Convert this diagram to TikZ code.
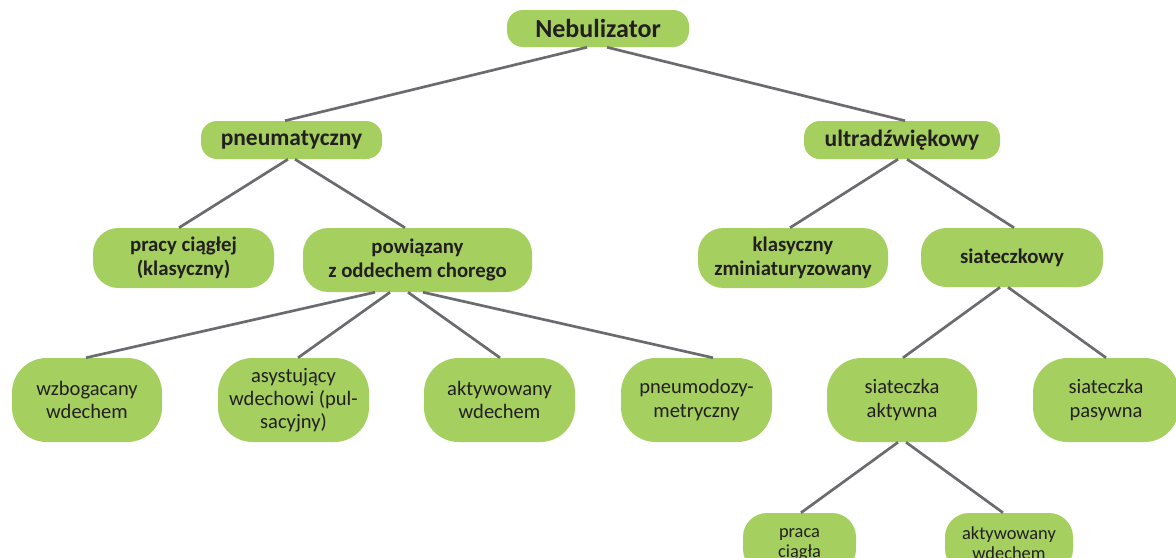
\documentclass[tikz,border=0pt]{standalone}
\usepackage{fontspec}
\setmainfont{Carlito}
\usetikzlibrary{calc}
\definecolor{boxgreen}{HTML}{A5CF5F}
\definecolor{linegray}{HTML}{6A6B6E}
\definecolor{txt}{HTML}{231F20}
\tikzset{
  box/.style={rectangle, rounded corners=#1, fill=boxgreen, draw=none, text=txt, align=center, inner sep=0pt},
  lvA/.style={box=12, font=\bfseries\fontsize{19.5}{22}\selectfont},
  lvB/.style={box=12, font=\bfseries\fontsize{17.6}{20}\selectfont},
  lvC/.style={box=19, font=\bfseries\fontsize{15.6}{18}\selectfont},
  lvD/.style={box=26, font=\fontsize{15.4}{17.3}\selectfont},
  lvE/.style={box=18, font=\fontsize{13.8}{14.6}\selectfont},
  conn/.style={draw=linegray, line width=2pt}
}
\begin{document}
\begin{tikzpicture}[x=0.75pt,y=-0.75pt]
\clip (0,0) rectangle (1176,557);
\fill[white] (0,0) rectangle (1176,557);
% level 0
\node[lvA, minimum width=182*0.75pt, minimum height=37*0.75pt] (neb) at (598,28.5) {Nebulizator};
% level 1
\node[lvB, minimum width=181*0.75pt, minimum height=38*0.75pt] (pne) at (291.5,140) {pneumatyczny};
\node[lvB, minimum width=196*0.75pt, minimum height=38*0.75pt] (ult) at (902,140) {ultradźwiękowy};
% level 2
\node[lvC, minimum width=181*0.75pt, minimum height=60*0.75pt] (pra) at (183.5,258) {pracy ciągłej\\(klasyczny)};
\node[lvC, minimum width=229*0.75pt, minimum height=64*0.75pt] (pow) at (417.5,260) {powiązany\\z oddechem chorego};
\node[lvC, minimum width=190*0.75pt, minimum height=60*0.75pt] (kla) at (793,258) {klasyczny\\zminiaturyzowany};
\node[lvC, minimum width=182*0.75pt, minimum height=59*0.75pt] (sia) at (1012,257.5) {siateczkowy};
% level 3
\node[lvD, minimum width=150*0.75pt, minimum height=84*0.75pt] (wzb) at (87,400) {wzbogacany\\wdechem};
\node[lvD, minimum width=151*0.75pt, minimum height=84*0.75pt] (asy) at (293.5,400) {asystujący\\wdechowi (pul-\\sacyjny)};
\node[lvD, minimum width=151*0.75pt, minimum height=84*0.75pt] (akt) at (499.5,400) {aktywowany\\wdechem};
\node[lvD, minimum width=151*0.75pt, minimum height=84*0.75pt] (pnm) at (696.5,400) {pneumodozy-\\metryczny};
\node[lvD, minimum width=150*0.75pt, minimum height=84*0.75pt] (saa) at (902,400) {siateczka\\aktywna};
\node[lvD, minimum width=146*0.75pt, minimum height=84*0.75pt] (sap) at (1106,400) {siateczka\\pasywna};
% level 4
\node[lvE, minimum width=113*0.75pt, minimum height=60*0.75pt, text depth=0pt] (pc) at (799.5,543) {praca\\ciągła};
\node[lvE, minimum width=128*0.75pt, minimum height=60*0.75pt] (aw) at (1009,543) {aktywowany\\wdechem};
% connectors
\draw[conn] ($(neb.south)+(-11,0)$) -- ($(pne.north)+(-6.5,0)$);
\draw[conn] ($(neb.south)+(9,0)$) -- ($(ult.north)+(3,0)$);
\draw[conn] ($(pne.south)+(-3.5,0)$) -- ($(pra.north)+(-4.5,0)$);
\draw[conn] ($(pne.south)+(3.5,0)$) -- ($(pow.north)+(-12.5,0)$);
\draw[conn] ($(ult.south)+(-4,0)$) -- ($(kla.north)+(-3,0)$);
\draw[conn] ($(ult.south)+(5,0)$) -- ($(sia.north)+(2,0)$);
\draw[conn] ($(pow.south)+(-42.5,0)$) -- ($(wzb.north)+(-1,0)$);
\draw[conn] ($(pow.south)+(-27.5,0)$) -- ($(asy.north)+(4.5,0)$);
\draw[conn] ($(pow.south)+(-9.5,0)$) -- ($(akt.north)+(0.5,0)$);
\draw[conn] ($(pow.south)+(5.5,0)$) -- ($(pnm.north)+(16.5,0)$);
\draw[conn] ($(sia.south)+(-12,0)$) -- ($(saa.north)+(1,0)$);
\draw[conn] ($(sia.south)+(-4,0)$) -- ($(sap.north)+(0,0)$);
\draw[conn] ($(saa.south)+(-4,0)$) -- ($(pc.north)+(1.5,0)$);
\draw[conn] ($(saa.south)+(4,0)$) -- ($(aw.north)+(-6,0)$);
\end{tikzpicture}
\end{document}
